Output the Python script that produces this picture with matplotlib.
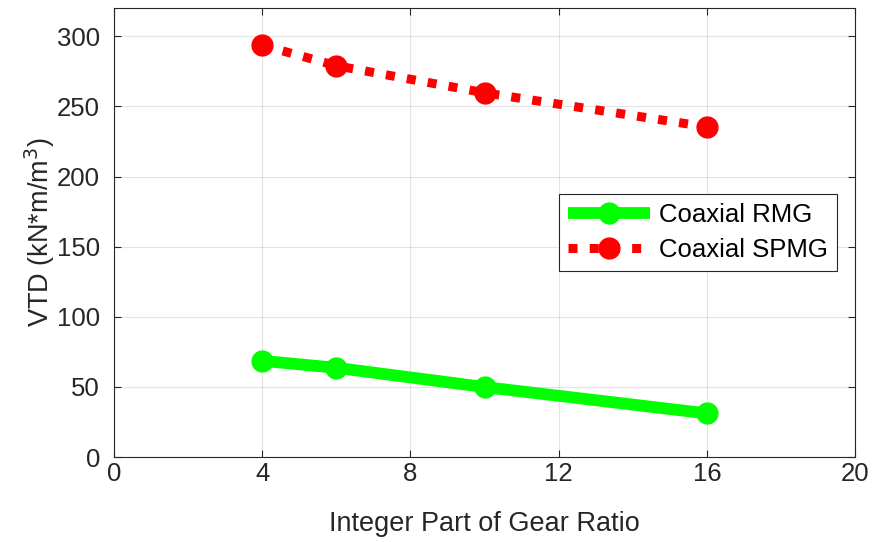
import matplotlib
matplotlib.use('Agg')
import matplotlib.pyplot as plt

# Integer part of gear ratio vs volumetric torque density
ratio = [4, 6, 10, 16]
vtd_rmg = [68.6, 63.6, 49.9, 31.1]
vtd_spmg = [293.6, 279.0, 259.7, 235.4]

plt.rcParams['font.family'] = ['Liberation Sans', 'DejaVu Sans']

fig = plt.figure(figsize=(8.75, 5.42), dpi=100)
ax = fig.add_axes([0.1303, 0.1568, 0.847, 0.828])

ax.plot(ratio, vtd_rmg, color='#00ff00', lw=8.5, marker='o', ms=15,
        solid_capstyle='butt', label='Coaxial RMG')
ax.plot(ratio, vtd_spmg, color='#ff0000', lw=6.5, marker='o', ms=15,
        dashes=(1.0, 1.35), dash_capstyle='butt', label='Coaxial SPMG')

ax.set_xlim(0, 20)
ax.set_ylim(0, 320)
ax.set_xticks([0, 4, 8, 12, 16, 20])
ax.set_yticks([0, 50, 100, 150, 200, 250, 300])
ax.grid(True, color='#262626', alpha=0.12, lw=0.8)
ax.tick_params(direction='in', top=True, right=True, labelsize=18.5,
               colors='#262626', length=5, width=0.8, labelcolor='#262626')
ax.tick_params(axis='y', pad=10)
for s in ax.spines.values():
    s.set_color('#262626')
    s.set_linewidth(0.8)

ax.set_xlabel('Integer Part of Gear Ratio', fontsize=19.5, color='#262626',
              labelpad=18)
ax.set_ylabel('VTD (kN*m/m$^3$)', fontsize=19.5, color='#262626', labelpad=0)

leg = ax.legend(loc='upper right', bbox_to_anchor=(0.975, 0.585), fontsize=18.5,
                fancybox=False, edgecolor='#262626', framealpha=1,
                handlelength=3.2, borderpad=0.35, labelspacing=0.4,
                handletextpad=0.35, borderaxespad=0)
leg.get_frame().set_linewidth(0.8)

fig.savefig('out.png', dpi=100)
